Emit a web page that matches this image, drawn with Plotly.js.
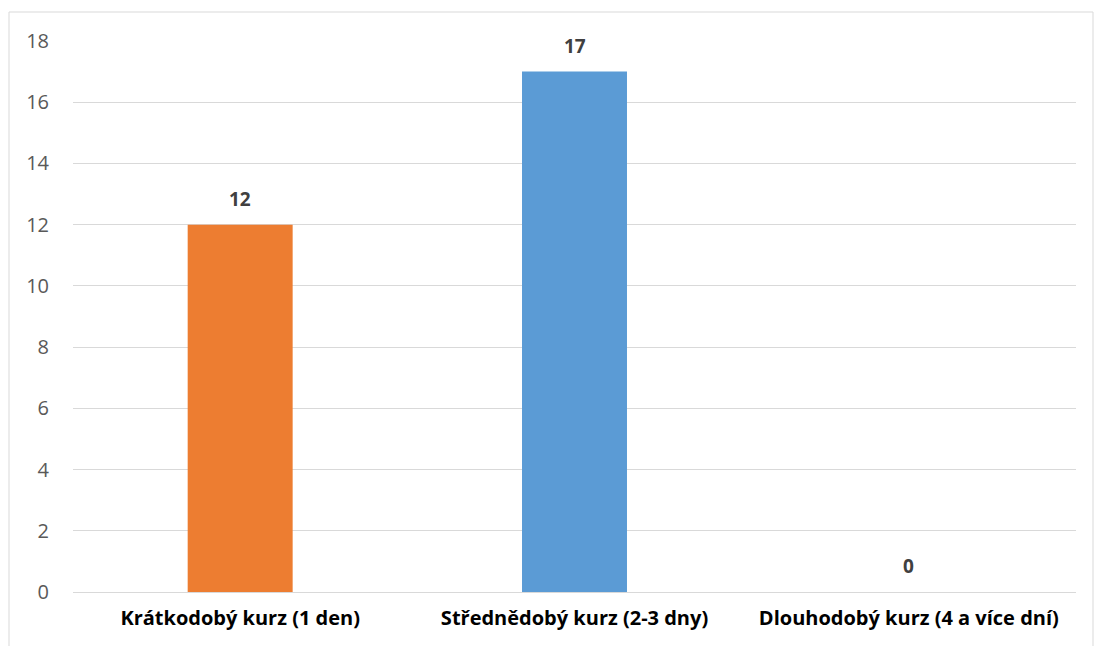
<!DOCTYPE html>
<html>
<head>
<meta charset="utf-8">
<script src="https://cdn.plot.ly/plotly-3.0.1.min.js"></script>
<style>html,body{margin:0;padding:0;background:#fff;}#chart{width:1094px;height:646px;}</style>
</head>
<body>
<div id="chart"></div>
<script>
const categories = ["Krátkodobý kurz (1 den)", "Střednědobý kurz (2-3 dny)", "Dlouhodobý kurz (4 a více dní)"];
const values = [12, 17, 0];
const barColors = ["#ED7D31", "#5B9BD5", "#A5A5A5"];
const yTicks = [0, 2, 4, 6, 8, 10, 12, 14, 16, 18];

const FONT = "Open Sans, Liberation Sans, sans-serif";

const trace = {
  type: "bar",
  x: categories,
  y: values,
  marker: {color: barColors},
  hoverinfo: "skip"
};

const annotations = categories.map((c, i) => ({
  x: c, y: values[i], xref: "x", yref: "y",
  text: "<b>" + values[i] + "</b>",
  showarrow: false, yanchor: "middle", yshift: 26,
  font: {family: FONT, size: 19, color: "#404040"}
}));

const L = 73, R = 18, T = 41, B = 54;
const pw = 1094 - L - R, ph = 646 - T - B;

const layout = {
  width: 1094, height: 646,
  margin: {l: L, r: R, t: T, b: B, pad: 0},
  paper_bgcolor: "#fff", plot_bgcolor: "#fff",
  showlegend: false,
  bargap: 0.686,
  font: {family: FONT},
  xaxis: {
    type: "category",
    tickfont: {family: FONT, size: 20, color: "#000"},
    tickprefix: "<b>", ticksuffix: "</b>",
    showgrid: false, zeroline: false, showline: false, ticks: "",
    ticklabelstandoff: 12
  },
  yaxis: {
    range: [0, 18],
    tickvals: yTicks,
    ticktext: yTicks.map(String),
    tickfont: {family: FONT, size: 20, color: "#595959"},
    showgrid: true, gridcolor: "#D9D9D9", gridwidth: 1,
    zeroline: true, zerolinecolor: "#D9D9D9", zerolinewidth: 1,
    showline: false, ticks: "", ticklabelstandoff: 23
  },
  annotations: annotations,
  shapes: [{
    type: "rect", xref: "paper", yref: "paper", layer: "below",
    x0: (9 - L) / pw, x1: (1093 - L) / pw,
    y0: (T + ph - 660) / ph, y1: (T + ph - 12) / ph,
    line: {color: "#D9D9D9", width: 1}, fillcolor: "rgba(0,0,0,0)"
  }]
};

Plotly.newPlot("chart", [trace], layout, {displayModeBar: false, staticPlot: true});
</script>
</body>
</html>
